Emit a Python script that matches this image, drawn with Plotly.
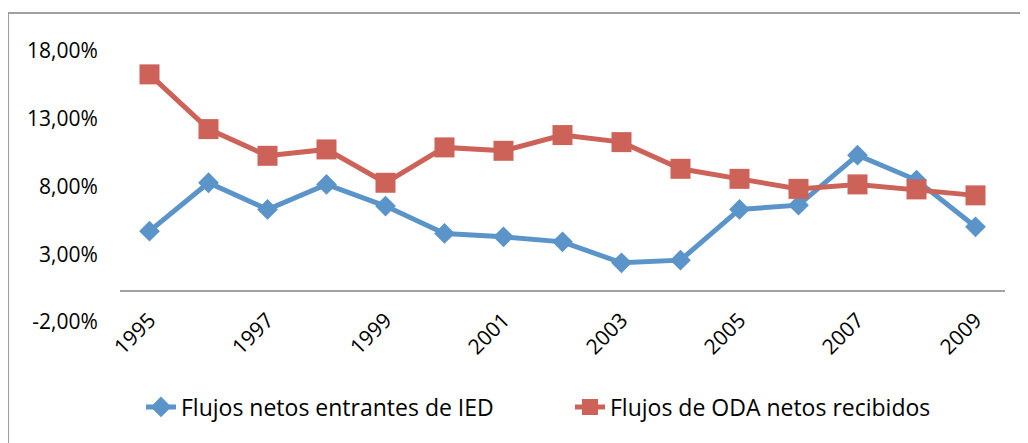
import plotly.graph_objects as go

years = list(range(1995, 2010))
ied = [4.41, 7.98, 6.01, 7.86, 6.26, 4.24, 3.99, 3.62, 2.07, 2.27, 6.01, 6.33, 10.02, 8.18, 4.73]
oda = [15.98, 11.94, 9.97, 10.44, 7.98, 10.59, 10.34, 11.50, 10.98, 9.01, 8.27, 7.53, 7.86, 7.49, 7.05]
series_names = ["Flujos netos entrantes de IED", "Flujos de ODA netos recibidos"]
y_tickvals = [-2, 3, 8, 13, 18]
y_ticktext = ["-2,00%", "3,00%", "8,00%", "13,00%", "18,00%"]
x_tickvals = [1995, 1997, 1999, 2001, 2003, 2005, 2007, 2009]

FONT = "Open Sans, sans-serif"
BLUE = "#5B94C9"
RED = "#CD6259"
GRAY = "#A3A3A3"

fig = go.Figure()
fig.add_trace(go.Scatter(x=years, y=ied, name=series_names[0], mode="lines+markers",
                         line=dict(color=BLUE, width=5),
                         marker=dict(symbol="diamond", size=16, color=BLUE)))
fig.add_trace(go.Scatter(x=years, y=oda, name=series_names[1], mode="lines+markers",
                         line=dict(color=RED, width=5),
                         marker=dict(symbol="square", size=20, color=RED)))

# page has an 8px body margin; figure coordinates are page coordinates minus 8
OFF = 8
W, H = 1020, 435
L, T = 120 - OFF, 47 - OFF
bottom = 318 - OFF
right = 1005.5 - OFF
R, B = W - right, H - bottom
pw, ph = right - L, bottom - T

def px(xp):
    return (xp - OFF - L) / pw

def py(yp):
    return (bottom - (yp - OFF)) / ph

fig.update_layout(
    width=W, height=H,
    margin=dict(l=L, r=R, t=T, b=B, autoexpand=False),
    paper_bgcolor="white", plot_bgcolor="white",
    font=dict(family=FONT, size=21, color="black"),
    showlegend=True,
    legend=dict(orientation="h", x=px(141), xanchor="left",
                y=py(407), yanchor="middle",
                font=dict(size=23), entrywidth=384, entrywidthmode="pixels",
                bgcolor="rgba(0,0,0,0)"),
    xaxis=dict(range=[1994.5, 2009.5], tickvals=x_tickvals, tickangle=-45,
               showgrid=False, zeroline=False, showline=True, linecolor=GRAY, linewidth=2,
               anchor="free", position=py(290.7), automargin=False,
               ticks="outside", ticklen=8, tickcolor="rgba(0,0,0,0)",
               tickfont=dict(size=21)),
    yaxis=dict(range=[-2, 18], tickvals=y_tickvals, ticktext=y_ticktext,
               showgrid=False, zeroline=False, showline=False, automargin=False,
               ticks="outside", ticklen=17, tickcolor="rgba(0,0,0,0)",
               ticklabelshift=4,
               tickfont=dict(size=21)),
    shapes=[dict(type="rect", xref="paper", yref="paper",
                 x0=px(8), x1=px(1040), y0=py(470), y1=py(13),
                 line=dict(color="#A0A0A0", width=2), fillcolor="rgba(0,0,0,0)", layer="below")],
)

fig.write_html("out.html")
